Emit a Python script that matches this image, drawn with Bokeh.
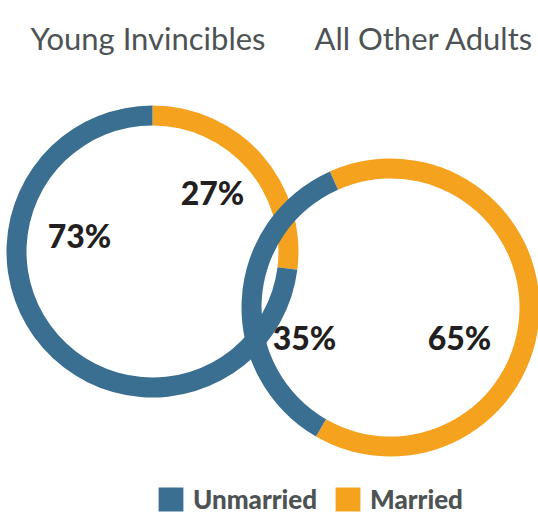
import math
from bokeh.plotting import figure
from bokeh.models import ColumnDataSource, Range1d, Legend, LegendItem
from bokeh.core.properties import value
from bokeh.embed import file_html
from bokeh.resources import INLINE

# ---- data ----
groups = ["Young Invincibles", "All Other Adults"]
categories = ["Unmarried", "Married"]
unmarried = [73, 35]
married = [27, 65]

# ---- style / layout ----
colors = {"Unmarried": "#3a6f91", "Married": "#f5a21f"}
FONT = "Lato"
HEAVY = "'Lato Black', 'Lato Heavy', Lato"
TITLE_COLOR = "#4d5354"
LABEL_COLOR = "#231f20"

W, H = 538, 515
# data units == pixels (x = page x, y = 515 - page y)
p = figure(width=W, height=H, output_backend="svg", toolbar_location=None,
           x_range=Range1d(0, W), y_range=Range1d(0, H),
           x_axis_location=None, y_axis_location=None, min_border=0,
           outline_line_color=None)
p.grid.visible = False
p.background_fill_color = "white"
p.border_fill_color = "white"

# ring layout: centre, outer/inner radius, rotation of first (married) slice
rings = [
    dict(cx=152, cy=264, r_out=146, r_in=126, start=0.0),
    dict(cx=390, cy=208, r_out=149, r_in=129, start=-24.0),
]
# label offsets from ring centre (pixels) for Unmarried / Married
label_offsets = [
    [(-73, 16), (60, 59)],
    [(-86, -30), (69, -30)],
]

renderers = []
for i, ring in enumerate(rings):
    vals = {"Married": married[i], "Unmarried": unmarried[i]}
    total = vals["Married"] + vals["Unmarried"]
    # clockwise from top, married first
    theta = ring["start"]
    starts, ends, cols, cats = [], [], [], []
    for cat in ["Married", "Unmarried"]:
        span = vals[cat] / total * 360.0
        t0, t1 = theta, theta + span
        starts.append(math.radians(90 - t1))
        ends.append(math.radians(90 - t0))
        cols.append(colors[cat])
        cats.append(cat)
        theta = t1
    src = ColumnDataSource(dict(x=[ring["cx"]] * 2, y=[ring["cy"]] * 2,
                                start=starts, end=ends, color=cols, cat=cats))
    r = p.annular_wedge(x="x", y="y", inner_radius=ring["r_in"], outer_radius=ring["r_out"],
                        start_angle="start", end_angle="end", fill_color="color",
                        line_color=None, source=src, direction="anticlock")
    renderers.append(r)

    lx, ly, lt = [], [], []
    for j, cat in enumerate(categories):
        v = unmarried[i] if cat == "Unmarried" else married[i]
        dx, dy = label_offsets[i][j]
        lx.append(ring["cx"] + dx)
        ly.append(ring["cy"] + dy)
        lt.append(f"{v}%")
    p.text(x=lx, y=ly, text=lt, text_font=value(HEAVY), text_font_style="bold",
           text_font_size="32px", text_color=LABEL_COLOR, text_align="center",
           text_baseline="middle")

# titles
p.text(x=[30, 314], y=[478, 478], text=groups, text_font=value(FONT),
       text_font_size="31px", text_color=TITLE_COLOR, text_align="left",
       text_baseline="alphabetic")

legend = Legend(items=[LegendItem(label=categories[0], renderers=[renderers[0]], index=1),
                       LegendItem(label=categories[1], renderers=[renderers[0]], index=0)],
                orientation="horizontal", location=(155, 0),
                glyph_width=31, glyph_height=30, label_standoff=7, spacing=15,
                padding=0, margin=0,
                label_text_font=HEAVY, label_text_font_style="bold",
                label_text_font_size="26px", label_text_color=TITLE_COLOR,
                background_fill_alpha=0, border_line_color=None)
p.add_layout(legend, "center")

open("out.html", "w").write(file_html(p, INLINE))
